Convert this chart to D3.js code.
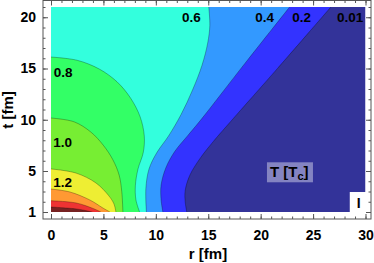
<!DOCTYPE html>
<html lang="en">
<head>
<meta charset="UTF-8">
<title>T(r,t) contours</title>
<script src="https://cdn.jsdelivr.net/npm/d3@7"></script>
<style>
	body { margin: 0; background: #fff; }
	svg text { font-family: "Liberation Sans", Arial, sans-serif; font-weight: bold; }
</style>
</head>
<body>
<div id="chart"></div>
<script>
	// contour levels, lowest first (region colours from outside in)
	const levels = [0.01, 0.2, 0.4, 0.6, 0.8, 1.0, 1.2, 1.4, 1.6, 1.8]
	const fills = ['#333399', '#3333ff', '#3399ff', '#33ffdd', '#33ff66', '#77ee33', '#eeee33', '#ff9933', '#ee3333', '#772222']

	// iso-lines, [r fm, t fm]
	const iso02 = [[26.7,21],[21.6,15],[17.2,9.9],[15.5,7.9],[14.2,6.2],[13.25,4.6],[12.8,3.1],[12.8,2.0],[12.95,1]]
	const iso04 = [[22.76,21],[18.5,15.5],[14.3,10],[13.0,8.4],[11.8,6.9],[10.95,5.3],[10.5,3.6],[10.5,2.2],[10.67,1]]
	const iso06 = [[15.05,21],[15.15,19.2],[14.95,17.5],[14.4,15.3],[13.5,12.9],[12.4,10.5],[11.2,8.4],[10.1,6.8],[9.35,5.2],[9.05,3.3],[9.1,1]]
	const iso08 = [[0,16.12],[2.5,15.8],[4.6,14.95],[6.3,13.7],[7.6,12.1],[8.5,10.3],[8.9,8.4],[8.8,6.8],[8.3,5.2],[8.05,3.6],[8.1,2.2],[8.45,1]]
	const iso10 = [[0,10.17],[2.2,9.8],[3.8,8.8],[5.0,7.5],[5.9,6.1],[6.5,4.6],[6.75,3.0],[6.86,1]]
	const iso12 = [[0,5.2],[2.38,4.8],[4.29,3.83],[5.5,2.6],[6.0,1.8],[6.19,1]]
	const iso14 = [[0,3.24],[1.81,2.95],[3.71,2.17],[4.95,1.39],[5.62,1]]
	const iso16 = [[0,2.1],[2.4,1.88],[4.0,1.35],[4.76,1]]
	const iso18 = [[0,1.49],[2.4,1.3],[3.5,1.1],[3.95,1]]
	const isoLines = [iso02, iso04, iso06, iso08, iso10, iso12, iso14, iso16, iso18]

	// labels on the contours
	const labelText = ['0.8', '1.0', '1.2', '0.6', '0.4', '0.2', '0.01']
	const labelR = [1.15, 1.1, 1.1, 13.4, 20.37, 23.9, 28.53]
	const labelT = [14.6, 7.78, 3.88, 19.93, 19.93, 19.93, 19.93]

	const xMajor = [0, 5, 10, 15, 20, 25, 30]
	const yMajor = [1, 5, 10, 15, 20]

	const width = 374, height = 263
	const frame = {left: 43, right: 371, top: 0.5, bottom: 219}

	const x = d3.scaleLinear().domain([0, 30]).range([51, 365.5])
	const y = d3.scaleLinear().domain([1, 21]).range([212, 7])

	const svg = d3.select('#chart').append('svg').attr('width', width).attr('height', height)

	svg.append('clipPath').attr('id', 'plot-clip')
		.append('rect')
		.attr('x', x(0)).attr('y', y(21))
		.attr('width', x(30) - x(0)).attr('height', y(1) - y(21))

	const plot = svg.append('g').attr('clip-path', 'url(#plot-clip)')

	// background = lowest level
	plot.append('rect')
		.attr('x', x(0)).attr('y', y(21))
		.attr('width', x(30) - x(0)).attr('height', y(1) - y(21))
		.attr('fill', fills[0])

	const line = d3.line().x(d => x(d[0])).y(d => y(d[1])).curve(d3.curveCatmullRom.alpha(0.5))

	isoLines.forEach((pts, i) => {
		// close the region along the left and bottom edges
		const corners = [[0, 1]]
		if(pts[0][1] >= 21) corners.push([0, 21])
		const d = line(pts) + corners.map(c => `L${x(c[0])},${y(c[1])}`).join('') + 'Z'
		plot.append('path').attr('d', d).attr('fill', fills[i + 1])
	})
	isoLines.forEach(pts => {
		plot.append('path').attr('d', line(pts))
			.attr('fill', 'none')
			.attr('stroke', 'rgba(0,0,0,0.4)')
			.attr('stroke-width', 0.7)
	})

	labelText.forEach((txt, i) => {
		svg.append('text')
			.attr('x', x(labelR[i])).attr('y', y(labelT[i]))
			.attr('text-anchor', 'middle')
			.attr('dominant-baseline', 'central')
			.attr('font-size', 13.5)
			.text(txt)
	})

	// legend box T [Tc]
	svg.append('rect')
		.attr('x', x(20.6)).attr('y', y(5.85))
		.attr('width', 46).attr('height', 20)
		.attr('fill', 'white').attr('fill-opacity', 0.4)
	const leg = svg.append('text').attr('x', x(20.6) + 3).attr('y', y(5.85) + 15).attr('font-size', 15)
	leg.append('tspan').text('T [T')
	leg.append('tspan').attr('font-size', 11).attr('dy', 3).text('c')
	leg.append('tspan').attr('dy', -3).text(']')

	// panel tag
	svg.append('rect')
		.attr('x', x(28.5)).attr('y', y(2.95))
		.attr('width', 18).attr('height', 21)
		.attr('fill', 'white')
	svg.append('text')
		.attr('x', x(28.5) + 9).attr('y', y(2.95) + 16)
		.attr('text-anchor', 'middle').attr('font-size', 14)
		.text('I')

	// frame and ticks (inward)
	svg.append('rect')
		.attr('x', frame.left).attr('y', frame.top)
		.attr('width', frame.right - frame.left).attr('height', frame.bottom - frame.top)
		.attr('fill', 'none').attr('stroke', '#555').attr('stroke-width', 1)

	function styleAxis(g) {
		g.select('.domain').remove()
		g.selectAll('line').attr('stroke', '#555')
		g.selectAll('text').attr('font-size', 14).attr('fill', '#000')
			.attr('font-family', '"Liberation Sans", Arial, sans-serif')
	}

	const xMinor = d3.range(0, 31)
	const yMinor = d3.range(1, 22)

	svg.append('g').attr('transform', `translate(0,${frame.bottom})`)
		.call(d3.axisBottom(x).tickValues(xMinor).tickSize(-2.5).tickFormat('')).call(styleAxis)
	svg.append('g').attr('transform', `translate(0,${frame.bottom})`)
		.call(d3.axisBottom(x).tickValues(xMajor).tickSize(-5).tickPadding(11)).call(styleAxis)
	svg.append('g').attr('transform', `translate(0,${frame.top})`)
		.call(d3.axisTop(x).tickValues(xMinor).tickSize(-2.5).tickFormat('')).call(styleAxis)
	svg.append('g').attr('transform', `translate(0,${frame.top})`)
		.call(d3.axisTop(x).tickValues(xMajor).tickSize(-5).tickFormat('')).call(styleAxis)

	svg.append('g').attr('transform', `translate(${frame.left},0)`)
		.call(d3.axisLeft(y).tickValues(yMinor).tickSize(-2.5).tickFormat('')).call(styleAxis)
	svg.append('g').attr('transform', `translate(${frame.left},0)`)
		.call(d3.axisLeft(y).tickValues(yMajor).tickSize(-5).tickPadding(7)).call(styleAxis)
	svg.append('g').attr('transform', `translate(${frame.right},0)`)
		.call(d3.axisRight(y).tickValues(yMinor).tickSize(-2.5).tickFormat('')).call(styleAxis)
	svg.append('g').attr('transform', `translate(${frame.right},0)`)
		.call(d3.axisRight(y).tickValues(yMajor).tickSize(-5).tickFormat('')).call(styleAxis)

	// axis titles
	svg.append('text')
		.attr('x', 208).attr('y', 259)
		.attr('text-anchor', 'middle').attr('font-size', 15)
		.text('r [fm]')
	svg.append('text')
		.attr('transform', 'translate(13,110) rotate(-90)')
		.attr('text-anchor', 'middle').attr('font-size', 15)
		.text('t [fm]')
</script>
</body>
</html>
